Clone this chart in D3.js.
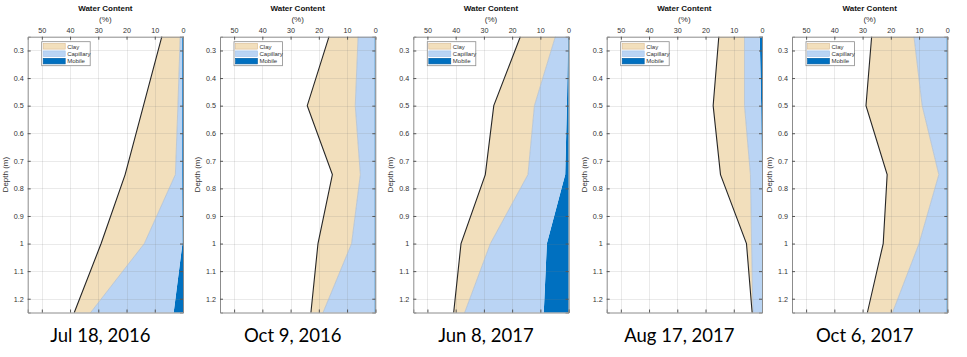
<!DOCTYPE html>
<html><head><meta charset="utf-8">
<script src="https://cdn.jsdelivr.net/npm/d3@7"></script>
<style>body{margin:0;background:#fff}svg{display:block}</style>
</head><body>
<svg id="c" width="967" height="357"></svg>
<script>
// ---- data ----
const depths = [0.25, 0.5, 0.75, 1.0, 1.25];
const dates = ["Jul 18, 2016", "Oct 9, 2016", "Jun 8, 2017", "Aug 17, 2017", "Oct 6, 2017"];
const seriesNames = ["Clay", "Capillary", "Mobile"];
const xTicks = [50, 40, 30, 20, 10, 0];
const yTicks = [0.3, 0.4, 0.5, 0.6, 0.7, 0.8, 0.9, 1.0, 1.1, 1.2];
// layer thicknesses (%) per date, at each depth
const mobile = [
  [0.3, 0.3, 0.3, 0.2, 3.3],
  [0.3, 0.3, 0.3, 0.3, 0.3],
  [0.2, 0.6, 1.2, 7.7, 8.8],
  [0.8, 0.3, 0.1, 0.1, 0.1],
  [0.3, 0.3, 0.3, 0.3, 0.3]
];
const capillary = [
  [0.7, 1.5, 2.4, 13.5, 29.4],
  [5.8, 6.8, 5.0, 8.1, 18.2],
  [4.5, 11.5, 13.2, 20.0, 28.0],
  [5.4, 5.9, 4.0, 3.6, 3.1],
  [11.5, 8.6, 2.7, 9.7, 19.1]
];
const clay = [
  [6.5, 12.2, 17.8, 15.3, 5.8],
  [10.3, 17.0, 9.9, 11.9, 4.3],
  [12.4, 14.4, 15.1, 10.4, 3.9],
  [9.1, 11.1, 10.6, 1.8, 0.3],
  [15.0, 19.9, 18.3, 12.7, 8.9]
];

// ---- layout ----
const panelLeft = [27.7, 220, 413.3, 606.7, 792];
const panelW = 155.3, plotTop = 36.7, plotBottom = 312.5;
const colors = {Clay: "#f2dfbc", Capillary: "#bad4f4", Mobile: "#0070c0"};

const svg = d3.select("#c");
const font = "Liberation Sans, Arial, sans-serif";

dates.forEach((date, i) => {
  const x = d3.scaleLinear().domain([55, 0]).range([panelLeft[i], panelLeft[i] + panelW]);
  const y = d3.scaleLinear().domain([0.25, 1.25]).range([plotTop, plotBottom]);
  const g = svg.append("g");

  const rows = depths.map((d, k) => ({depth: d, Mobile: mobile[i][k], Capillary: capillary[i][k], Clay: clay[i][k]}));
  const stack = d3.stack().keys(["Mobile", "Capillary", "Clay"])(rows);

  const area = d3.area().y(d => y(d.data.depth)).x0(d => x(d[0])).x1(d => x(d[1]));
  stack.forEach(layer => {
    g.append("path").datum(layer).attr("d", area)
      .attr("fill", colors[layer.key]).attr("stroke", "none");
  });
  // grid over fills
  const grid = g.append("g").attr("stroke", "#7f7f7f").attr("stroke-opacity", 0.16).attr("stroke-width", 1);
  xTicks.forEach(t => grid.append("line").attr("x1", Math.round(x(t)) + 0.5).attr("x2", Math.round(x(t)) + 0.5).attr("y1", plotTop).attr("y2", plotBottom));
  yTicks.forEach(t => grid.append("line").attr("y1", Math.round(y(t)) + 0.5).attr("y2", Math.round(y(t)) + 0.5).attr("x1", x(55)).attr("x2", x(0)));

  // boundary lines
  const line = d3.line().y(d => y(d.data.depth));
  g.append("path").datum(stack[1]).attr("d", line.x(d => x(d[1])))
    .attr("fill", "none").attr("stroke", "#a9bcd2").attr("stroke-width", 0.7);
  g.append("path").datum(stack[2]).attr("d", line.x(d => x(d[1])))
    .attr("fill", "none").attr("stroke", "#262626").attr("stroke-width", 1.1);

  // axes
  const ax = d3.axisTop(x).tickValues(xTicks).tickSize(-3).tickPadding(4).tickFormat(d3.format("d"));
  const axT = g.append("g").attr("transform", `translate(0,${plotTop})`).call(ax);
  const axB = g.append("g").attr("transform", `translate(0,${plotBottom})`).call(d3.axisBottom(x).tickValues(xTicks).tickSize(-3).tickFormat(""));
  const ay = d3.axisLeft(y).tickValues(yTicks).tickSize(-3).tickPadding(4).tickFormat(d => d === 1 ? "1" : d3.format(".1f")(d));
  const ayL = g.append("g").attr("transform", `translate(${x(55)},0)`).call(ay);
  const ayR = g.append("g").attr("transform", `translate(${x(0)},0)`).call(d3.axisRight(y).tickValues(yTicks).tickSize(-3).tickFormat(""));
  [axT, axB, ayL, ayR].forEach(a => {
    a.select(".domain").attr("stroke", "#8c8c8c");
    a.selectAll(".tick line").attr("stroke", "#555");
    a.selectAll("text").attr("font-family", font).attr("font-size", 7.2).attr("fill", "#333");
  });

  const cx = panelLeft[i] + panelW / 2;
  g.append("text").attr("x", cx).attr("y", 11).attr("text-anchor", "middle")
    .attr("font-family", font).attr("font-weight", "bold").attr("font-size", 8).attr("fill", "#111").text("Water Content");
  g.append("text").attr("x", cx).attr("y", 22).attr("text-anchor", "middle")
    .attr("font-family", font).attr("font-size", 8).attr("fill", "#333").text("(%)");
  g.append("text").attr("transform", `translate(${panelLeft[i] - 20},${(plotTop + plotBottom) / 2}) rotate(-90)`)
    .attr("text-anchor", "middle").attr("font-family", font).attr("font-size", 8).attr("fill", "#333").text("Depth (m)");

  // legend
  const lx = panelLeft[i] + 14, ly = plotTop + 5;
  const lg = g.append("g").attr("transform", `translate(${lx},${ly})`);
  lg.append("rect").attr("width", 48.5).attr("height", 24).attr("fill", "#fff").attr("stroke", "#8c8c8c").attr("stroke-width", 0.8);
  seriesNames.forEach((s, k) => {
    lg.append("rect").attr("x", 1.5).attr("y", 1.8 + k * 7.4).attr("width", 22).attr("height", 5.6)
      .attr("fill", colors[s]).attr("stroke", s === "Clay" ? "#d9b98f" : (s === "Capillary" ? "#9fc0ea" : "#005a9e")).attr("stroke-width", 0.6);
    lg.append("text").attr("x", 25.5).attr("y", 6.9 + k * 7.4).attr("font-family", font).attr("font-size", 6)
      .attr("fill", "#333").text(s);
  });

  // date label
  g.append("text").attr("x", cx - 5).attr("y", 341.5).attr("text-anchor", "middle")
    .attr("font-family", "Lato, 'Open Sans', sans-serif").attr("font-size", 18.5).attr("fill", "#000").text(date);
});
</script>
</body></html>
